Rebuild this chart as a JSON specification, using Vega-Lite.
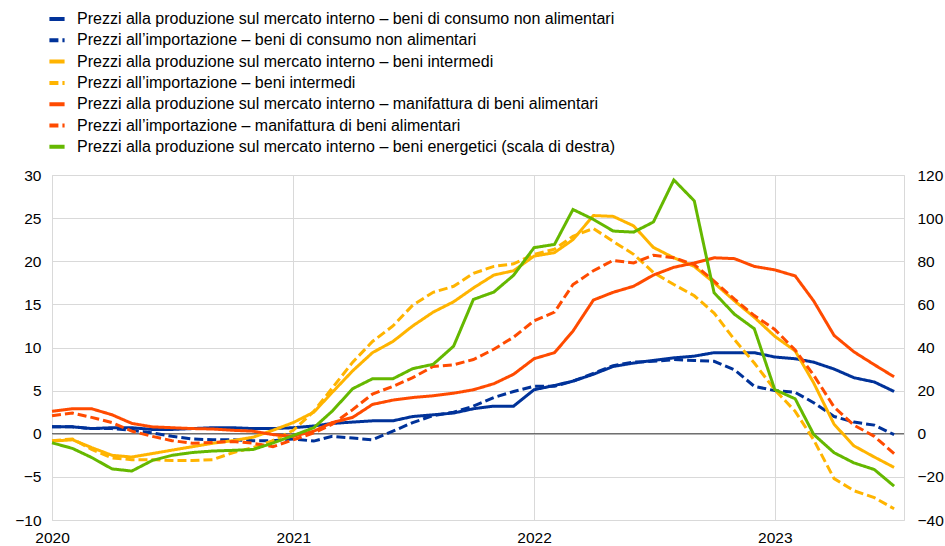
{
  "$schema": "https://vega.github.io/schema/vega-lite/v6.json",
  "width": 852,
  "height": 345,
  "autosize": {"type": "none"},
  "padding": {"left": 52, "top": 175, "right": 41, "bottom": 26},
  "background": "white",
  "config": {
    "font": "Liberation Sans",
    "view": {"stroke": "#d9d9d9", "strokeWidth": 1},
    "axis": {"labelFont": "Liberation Sans", "labelFontSize": 15.5, "labelColor": "#000000", "ticks": false, "domain": false, "gridColor": "#d9d9d9", "gridWidth": 1, "title": null},
    "legend": {"orient": "none", "legendX": -5, "legendY": -166, "title": null, "labelFont": "Liberation Sans", "labelFontSize": 16, "labelColor": "#000000", "symbolType": "stroke", "symbolSize": 230, "symbolStrokeWidth": 4, "labelOffset": 10, "rowPadding": 3.3, "columns": 1, "labelLimit": 900}
  },
  "data": {"values": [
    {"m": "2020-01-01", "a": 0.8, "b": 0.8, "c": -0.85, "d": -0.8, "e": 2.6, "f": 2.1, "g": -4.2},
    {"m": "2020-02-01", "a": 0.8, "b": 0.8, "c": -0.7, "d": -0.6, "e": 2.9, "f": 2.4, "g": -6.8},
    {"m": "2020-03-01", "a": 0.6, "b": 0.6, "c": -1.6, "d": -1.8, "e": 2.9, "f": 1.9, "g": -11},
    {"m": "2020-04-01", "a": 0.7, "b": 0.6, "c": -2.5, "d": -2.8, "e": 2.2, "f": 1.3, "g": -16.3},
    {"m": "2020-05-01", "a": 0.7, "b": 0.4, "c": -2.7, "d": -3.0, "e": 1.2, "f": 0.3, "g": -17.3},
    {"m": "2020-06-01", "a": 0.5, "b": 0.1, "c": -2.3, "d": -3.0, "e": 0.8, "f": -0.3, "g": -12.4},
    {"m": "2020-07-01", "a": 0.5, "b": -0.3, "c": -1.9, "d": -3.1, "e": 0.7, "f": -0.8, "g": -10},
    {"m": "2020-08-01", "a": 0.6, "b": -0.6, "c": -1.5, "d": -3.1, "e": 0.6, "f": -1.1, "g": -8.7},
    {"m": "2020-09-01", "a": 0.7, "b": -0.7, "c": -1.1, "d": -3.0, "e": 0.55, "f": -1.0, "g": -8},
    {"m": "2020-10-01", "a": 0.7, "b": -0.7, "c": -0.8, "d": -2.2, "e": 0.4, "f": -0.9, "g": -7.7},
    {"m": "2020-11-01", "a": 0.6, "b": -0.8, "c": -0.4, "d": -1.6, "e": 0.3, "f": -1.1, "g": -7.3},
    {"m": "2020-12-01", "a": 0.6, "b": -0.8, "c": 0.4, "d": -0.8, "e": -0.1, "f": -1.5, "g": -4.3},
    {"m": "2021-01-01", "a": 0.7, "b": -0.6, "c": 1.3, "d": 0.4, "e": -0.3, "f": -0.7, "g": -0.8},
    {"m": "2021-02-01", "a": 0.9, "b": -0.85, "c": 2.5, "d": 2.6, "e": 0.3, "f": 0.1, "g": 2.8},
    {"m": "2021-03-01", "a": 1.2, "b": -0.3, "c": 4.8, "d": 5.3, "e": 1.3, "f": 1.1, "g": 10.5},
    {"m": "2021-04-01", "a": 1.35, "b": -0.5, "c": 7.3, "d": 8.3, "e": 1.9, "f": 2.8, "g": 20.9},
    {"m": "2021-05-01", "a": 1.5, "b": -0.7, "c": 9.4, "d": 10.7, "e": 3.4, "f": 4.6, "g": 25.5},
    {"m": "2021-06-01", "a": 1.5, "b": 0.3, "c": 10.7, "d": 12.5, "e": 3.9, "f": 5.5, "g": 25.5},
    {"m": "2021-07-01", "a": 2.0, "b": 1.3, "c": 12.5, "d": 14.9, "e": 4.2, "f": 6.5, "g": 30.2},
    {"m": "2021-08-01", "a": 2.2, "b": 2.1, "c": 14.1, "d": 16.4, "e": 4.4, "f": 7.8, "g": 32.2},
    {"m": "2021-09-01", "a": 2.4, "b": 2.5, "c": 15.3, "d": 17.1, "e": 4.7, "f": 8.0, "g": 40.6},
    {"m": "2021-10-01", "a": 2.9, "b": 3.2, "c": 16.9, "d": 18.6, "e": 5.1, "f": 8.6, "g": 62.3},
    {"m": "2021-11-01", "a": 3.2, "b": 4.2, "c": 18.4, "d": 19.4, "e": 5.8, "f": 9.8, "g": 65.7},
    {"m": "2021-12-01", "a": 3.2, "b": 4.9, "c": 18.9, "d": 19.7, "e": 6.9, "f": 11.2, "g": 73.5},
    {"m": "2022-01-01", "a": 5.1, "b": 5.5, "c": 20.6, "d": 20.8, "e": 8.7, "f": 13.1, "g": 86.3},
    {"m": "2022-02-01", "a": 5.6, "b": 5.5, "c": 21.0, "d": 21.4, "e": 9.4, "f": 14.1, "g": 87.8},
    {"m": "2022-03-01", "a": 6.1, "b": 6.1, "c": 22.5, "d": 22.9, "e": 11.9, "f": 17.3, "g": 104},
    {"m": "2022-04-01", "a": 6.9, "b": 7.0, "c": 25.3, "d": 23.8, "e": 15.5, "f": 18.9, "g": 99.4},
    {"m": "2022-05-01", "a": 7.8, "b": 7.9, "c": 25.2, "d": 22.3, "e": 16.4, "f": 20.1, "g": 94},
    {"m": "2022-06-01", "a": 8.2, "b": 8.3, "c": 24.1, "d": 20.8, "e": 17.1, "f": 19.8, "g": 93.5},
    {"m": "2022-07-01", "a": 8.5, "b": 8.4, "c": 21.6, "d": 18.7, "e": 18.4, "f": 20.7, "g": 98.2},
    {"m": "2022-08-01", "a": 8.8, "b": 8.6, "c": 20.4, "d": 17.3, "e": 19.3, "f": 20.4, "g": 117.7},
    {"m": "2022-09-01", "a": 9.0, "b": 8.5, "c": 19.4, "d": 16.0, "e": 19.8, "f": 19.6, "g": 108},
    {"m": "2022-10-01", "a": 9.4, "b": 8.4, "c": 17.5, "d": 14.0, "e": 20.4, "f": 17.7, "g": 65.4},
    {"m": "2022-11-01", "a": 9.4, "b": 7.4, "c": 15.4, "d": 10.9, "e": 20.3, "f": 15.6, "g": 55.4},
    {"m": "2022-12-01", "a": 9.4, "b": 5.5, "c": 13.5, "d": 8.2, "e": 19.4, "f": 13.7, "g": 48.7},
    {"m": "2023-01-01", "a": 8.9, "b": 5.0, "c": 11.3, "d": 5.1, "e": 19.0, "f": 12.1, "g": 20.5},
    {"m": "2023-02-01", "a": 8.7, "b": 4.8, "c": 9.6, "d": 2.6, "e": 18.3, "f": 9.7, "g": 16.2},
    {"m": "2023-03-01", "a": 8.3, "b": 3.6, "c": 5.9, "d": -0.7, "e": 15.4, "f": 6.8, "g": -0.3},
    {"m": "2023-04-01", "a": 7.5, "b": 2.0, "c": 1.1, "d": -5.2, "e": 11.4, "f": 3.1, "g": -8.8},
    {"m": "2023-05-01", "a": 6.5, "b": 1.35, "c": -1.4, "d": -6.6, "e": 9.5, "f": 1.0, "g": -13.5},
    {"m": "2023-06-01", "a": 6.0, "b": 1.0, "c": -2.7, "d": -7.4, "e": 8.0, "f": -0.3, "g": -16.6},
    {"m": "2023-07-01", "a": 4.9, "b": -0.1, "c": -3.9, "d": -8.7, "e": 6.6, "f": -2.3, "g": -24.3}
  ]},
  "transform": [{"fold": ["a", "b", "c", "d", "e", "f", "g"], "as": ["serie", "valore"]}],
  "layer": [
    {
      "data": {"values": [{}]},
      "mark": {"type": "rule", "color": "#404040", "strokeWidth": 1},
      "encoding": {"y": {"datum": 0, "type": "quantitative", "scale": {"domain": [-10, 30]}, "axis": null}}
    },
    {
      "transform": [{"filter": "datum.serie !== 'g'"}],
      "mark": {"type": "line", "strokeWidth": 3, "strokeCap": "butt"},
      "encoding": {
        "x": {"field": "m", "type": "temporal", "scale": {"type": "utc", "domain": [{"year": 2020, "month": 1, "date": 1, "utc": true}, {"year": 2023, "month": 7, "date": 16, "utc": true}]},
              "axis": {"values": [{"year": 2020, "month": 1, "date": 1, "utc": true}, {"year": 2021, "month": 1, "date": 1, "utc": true}, {"year": 2022, "month": 1, "date": 1, "utc": true}, {"year": 2023, "month": 1, "date": 1, "utc": true}], "format": "%Y", "formatType": "utc", "labelPadding": 10, "grid": true, "labelFlush": false, "labelOverlap": false}},
        "y": {"field": "valore", "type": "quantitative", "scale": {"domain": [-10, 30]}, "axis": {"orient": "left", "values": [-10, -5, 0, 5, 10, 15, 20, 25, 30], "grid": true, "labelPadding": 11}},
        "color": {"field": "serie", "type": "nominal", "scale": {"domain": ["a", "b", "c", "d", "e", "f", "g"], "range": ["#003299", "#003299", "#FFB400", "#FFB400", "#FF4B00", "#FF4B00", "#65B800"]},
                  "legend": {"labelExpr": "datum.label === 'a' ? 'Prezzi alla produzione sul mercato interno – beni di consumo non alimentari' : datum.label === 'b' ? 'Prezzi all’importazione – beni di consumo non alimentari' : datum.label === 'c' ? 'Prezzi alla produzione sul mercato interno – beni intermedi' : datum.label === 'd' ? 'Prezzi all’importazione – beni intermedi' : datum.label === 'e' ? 'Prezzi alla produzione sul mercato interno – manifattura di beni alimentari' : datum.label === 'f' ? 'Prezzi all’importazione – manifattura di beni alimentari' : 'Prezzi alla produzione sul mercato interno – beni energetici (scala di destra)'",
                             "encode": {"symbols": {"update": {"strokeDash": {"signal": "indexof(['b','d','f'], datum.value) >= 0 ? [4, 2.5] : [1, 0]"}}}}}},
        "strokeDash": {"field": "serie", "type": "nominal", "scale": {"domain": ["a", "b", "c", "d", "e", "f", "g"], "range": [[1, 0], [9, 4], [1, 0], [9, 4], [1, 0], [9, 4], [1, 0]]},
                  "legend": {"labelExpr": "datum.label === 'a' ? 'Prezzi alla produzione sul mercato interno – beni di consumo non alimentari' : datum.label === 'b' ? 'Prezzi all’importazione – beni di consumo non alimentari' : datum.label === 'c' ? 'Prezzi alla produzione sul mercato interno – beni intermedi' : datum.label === 'd' ? 'Prezzi all’importazione – beni intermedi' : datum.label === 'e' ? 'Prezzi alla produzione sul mercato interno – manifattura di beni alimentari' : datum.label === 'f' ? 'Prezzi all’importazione – manifattura di beni alimentari' : 'Prezzi alla produzione sul mercato interno – beni energetici (scala di destra)'",
                             "encode": {"symbols": {"update": {"strokeDash": {"signal": "indexof(['b','d','f'], datum.value) >= 0 ? [4, 2.5] : [1, 0]"}}}}}}
      }
    },
    {
      "transform": [{"filter": "datum.serie === 'g'"}],
      "mark": {"type": "line", "strokeWidth": 3, "strokeCap": "butt"},
      "encoding": {
        "x": {"field": "m", "type": "temporal", "scale": {"type": "utc", "domain": [{"year": 2020, "month": 1, "date": 1, "utc": true}, {"year": 2023, "month": 7, "date": 16, "utc": true}]}},
        "y": {"field": "valore", "type": "quantitative", "scale": {"domain": [-40, 120]}, "axis": {"orient": "right", "values": [-40, -20, 0, 20, 40, 60, 80, 100, 120], "grid": false, "labelPadding": 13}},
        "color": {"field": "serie", "type": "nominal", "scale": {"domain": ["a", "b", "c", "d", "e", "f", "g"], "range": ["#003299", "#003299", "#FFB400", "#FFB400", "#FF4B00", "#FF4B00", "#65B800"]}},
        "strokeDash": {"field": "serie", "type": "nominal", "scale": {"domain": ["a", "b", "c", "d", "e", "f", "g"], "range": [[1, 0], [9, 4], [1, 0], [9, 4], [1, 0], [9, 4], [1, 0]]}}
      }
    }
  ],
  "resolve": {"scale": {"y": "independent"}}
}
